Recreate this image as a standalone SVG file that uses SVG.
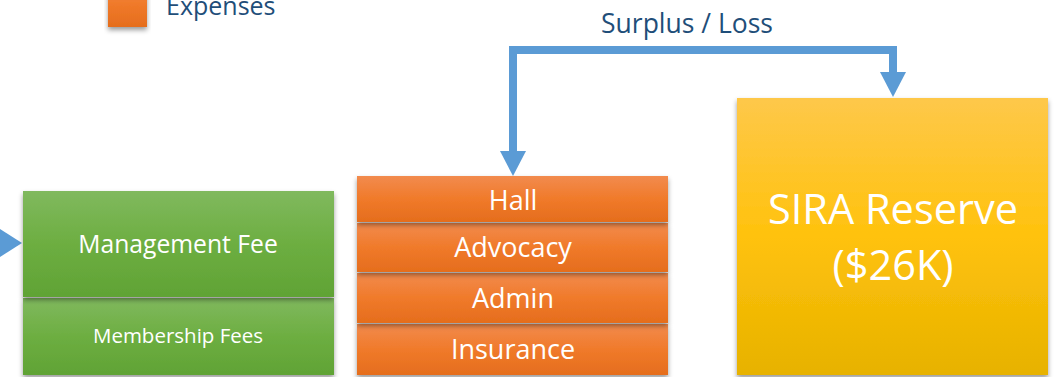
<svg xmlns="http://www.w3.org/2000/svg" width="1055" height="377" viewBox="0 0 1055 377">
<defs>
<linearGradient id="gGreen" x1="0" y1="0" x2="0" y2="1">
<stop offset="0" stop-color="#80B95E"/>
<stop offset="0.5" stop-color="#6DAE41"/>
<stop offset="1" stop-color="#60A335"/>
</linearGradient>
<linearGradient id="gOrange" x1="0" y1="0" x2="0" y2="1">
<stop offset="0" stop-color="#F28B4E"/>
<stop offset="0.5" stop-color="#F07A2A"/>
<stop offset="1" stop-color="#E56D1D"/>
</linearGradient>
<linearGradient id="gYellow" x1="0" y1="0" x2="0" y2="1">
<stop offset="0" stop-color="#FEC84A"/>
<stop offset="0.5" stop-color="#FFC20C"/>
<stop offset="1" stop-color="#E7B200"/>
</linearGradient>
<filter id="sh" x="-10%" y="-10%" width="120%" height="130%">
<feDropShadow dx="0" dy="3" stdDeviation="2.5" flood-color="#000" flood-opacity="0.4"/>
</filter>
</defs>
<style>
text{font-family:"Open Sans","Noto Sans",sans-serif;fill:#fff;text-anchor:middle}
.lbl{fill:#1F4E79}
.conn{fill:none;stroke:#5B9BD5;stroke-width:8}
.head{fill:#5B9BD5}
</style>
<rect width="1055" height="377" fill="#fff"/>
<g id="legend">
<rect x="108" y="-20" width="39" height="47" fill="url(#gOrange)" filter="url(#sh)"/>
<text class="lbl" x="166" y="15" font-size="25" style="text-anchor:start">Expenses</text>
</g>
<g id="connectors">
<path class="head" d="M0,229 L22,243 L0,257 Z"/>
<path class="conn" d="M513,153 V50 H893 V74"/>
<path class="head" d="M500,151 L526,151 L513,176 Z"/>
<path class="head" d="M880,72 L906,72 L893,97 Z"/>
<text class="lbl" x="687" y="33" font-size="26.5">Surplus / Loss</text>
</g>
<g id="membership-fees">
<rect x="23" y="298" width="311" height="77" fill="url(#gGreen)" filter="url(#sh)"/>
<text x="178" y="343" font-size="20.5">Membership Fees</text>
</g>
<g id="management-fee">
<rect x="23" y="191" width="311" height="106" fill="url(#gGreen)" filter="url(#sh)"/>
<text x="178" y="253" font-size="24.7">Management Fee</text>
</g>
<g id="insurance">
<rect x="357" y="324" width="311" height="51" fill="url(#gOrange)" filter="url(#sh)"/>
<text x="513" y="359" font-size="27">Insurance</text>
</g>
<g id="admin">
<rect x="357" y="273" width="311" height="50" fill="url(#gOrange)" filter="url(#sh)"/>
<text x="513" y="308" font-size="27">Admin</text>
</g>
<g id="advocacy">
<rect x="357" y="223" width="311" height="49" fill="url(#gOrange)" filter="url(#sh)"/>
<text x="513" y="257" font-size="27">Advocacy</text>
</g>
<g id="hall">
<rect x="357" y="176" width="311" height="46" fill="url(#gOrange)" filter="url(#sh)"/>
<text x="513" y="210" font-size="27">Hall</text>
</g>
<g id="sira-reserve">
<rect x="737" y="98" width="311" height="277" fill="url(#gYellow)" filter="url(#sh)"/>
<text x="893" y="224" font-size="41.5">SIRA Reserve</text>
<text x="893" y="280" font-size="41.5">($26K)</text>
</g>
</svg>
